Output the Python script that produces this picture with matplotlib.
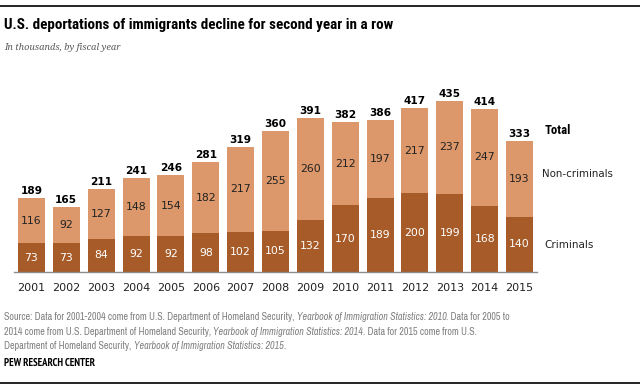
import matplotlib
matplotlib.use("Agg")
import matplotlib.pyplot as plt
from matplotlib import font_manager
from matplotlib.text import Annotation

years = ["2001", "2002", "2003", "2004", "2005", "2006", "2007", "2008",
         "2009", "2010", "2011", "2012", "2013", "2014", "2015"]
criminals = [73, 73, 84, 92, 92, 98, 102, 105, 132, 170, 189, 200, 199, 168, 140]
non_criminals = [116, 92, 127, 148, 154, 182, 217, 255, 260, 212, 197, 217, 237, 247, 193]
totals = [189, 165, 211, 241, 246, 281, 319, 360, 391, 382, 386, 417, 435, 414, 333]

DARK = "#A65B28"
LIGHT = "#DC986A"

def wnum(w):
    if isinstance(w, (int, float)):
        return int(w)
    return font_manager.weight_dict.get(str(w), 400)

entries = {}
for f in font_manager.fontManager.ttflist:
    entries.setdefault(f.name, []).append((wnum(f.weight), f.style))

def pick(cands, need_bold=False, need_italic=False):
    for c in cands:
        e = entries.get(c)
        if not e:
            continue
        weights = [w for w, s in e]
        if not any(350 <= w <= 500 for w in weights):
            continue
        if need_bold and not any(w >= 600 for w in weights):
            continue
        if need_italic and not any(s in ("italic", "oblique") for w, s in e):
            continue
        return [c, "DejaVu Sans"]
    return ["DejaVu Sans"]

COND_CANDS = ["Roboto Condensed", "Fira Sans Condensed", "IBM Plex Sans Condensed",
              "Archivo Narrow", "PT Sans Narrow", "Barlow Semi Condensed",
              "Asap Condensed", "Encode Sans Condensed", "Liberation Sans Narrow"]
NARROW_CANDS = ["PT Sans Narrow", "Archivo Narrow", "Barlow Semi Condensed",
                "Barlow Condensed", "Roboto Condensed", "Fira Sans Condensed",
                "Asap Condensed", "Liberation Sans Narrow"]
TITLEF = pick(COND_CANDS, need_bold=True)
COND = pick(NARROW_CANDS, need_italic=True)
if COND == ["DejaVu Sans"]:
    COND = pick(NARROW_CANDS)
PEWF = pick(NARROW_CANDS, need_bold=True)
SERIF = pick(["Georgia", "Noto Serif", "Merriweather", "Liberation Serif", "DejaVu Serif"],
             need_italic=True)
LABEL = ["DejaVu Sans"]

W, H = 640, 389
fig = plt.figure(figsize=(W / 100, H / 100), dpi=100)
renderer = fig.canvas.get_renderer()

def fx(px):
    return px / W

def fy(py):
    return 1 - py / H

def fit(artists, target):
    w = sum(a.get_window_extent(renderer).width for a in artists)
    for a in artists:
        a.set_fontsize(a.get_fontsize() * target / w)

ax_left, ax_right = 14, 537
base = 272
yspan = 500
pxh = 0.393 * yspan
ax = fig.add_axes([fx(ax_left), fy(base), (ax_right - ax_left) / W, pxh / H])
x = list(range(len(years)))
ax.bar(x, criminals, width=0.775, color=DARK, zorder=2)
ax.bar(x, non_criminals, width=0.775, bottom=criminals, color=LIGHT, zorder=2)
ax.set_xlim(-0.5, len(years) - 0.5)
ax.set_ylim(0, yspan)
for s in ["top", "right", "left"]:
    ax.spines[s].set_visible(False)
ax.spines["bottom"].set_color("#8c8c8c")
ax.spines["bottom"].set_linewidth(1.0)
ax.set_yticks([])
ax.set_xticks(x)
ax.set_xticklabels(years, family=LABEL, fontsize=8, color="#222222")
ax.tick_params(axis="x", length=0, pad=8)

for i in x:
    c, n, t = criminals[i], non_criminals[i], totals[i]
    ax.text(i, c / 2, str(c), ha="center", va="center", color="white",
            fontsize=7.8, family=LABEL)
    ax.text(i, c + n / 2, str(n), ha="center", va="center", color="#222222",
            fontsize=7.8, family=LABEL)
    ax.text(i, c + n + 5, str(t), ha="center", va="bottom", color="black",
            fontsize=7.6, family=LABEL, fontweight="bold")

t1 = fig.text(fx(545), fy(130), "Total", fontsize=8, fontweight="bold",
              family=TITLEF, va="center", ha="left")
t2 = fig.text(fx(542), fy(174), "Non-criminals", fontsize=8, family=LABEL,
              va="center", ha="left", color="#222222")
t3 = fig.text(fx(544), fy(245), "Criminals", fontsize=8, family=LABEL,
              va="center", ha="left", color="#222222")
fit([t1], 26)
fit([t2], 71)
fit([t3], 49)

title = fig.text(fx(4), fy(25), "U.S. deportations of immigrants decline for second year in a row",
                 fontsize=12, fontweight="bold", family=TITLEF, va="center", ha="left")
fit([title], 391)
sub = fig.text(fx(4), fy(47), "In thousands, by fiscal year", fontsize=9,
               family=SERIF, style="italic", color="#5a5a5a", va="center", ha="left")
fit([sub], 117)

GREY = "#808080"
src_lines = [
    [("Source: Data for 2001-2004 come from U.S. Department of Homeland Security, ", "normal"),
     ("Yearbook of Immigration Statistics: 2010", "italic"),
     (". Data for 2005 to", "normal")],
    [("2014 come from U.S. Department of Homeland Security, ", "normal"),
     ("Yearbook of Immigration Statistics: 2014", "italic"),
     (". Data for 2015 come from U.S.", "normal")],
    [("Department of Homeland Security, ", "normal"),
     ("Yearbook of Immigration Statistics: 2015", "italic"),
     (".", "normal")],
]
line_y = [317, 332, 346]
all_lines = []
for ly, parts in zip(line_y, src_lines):
    prev = None
    arts = []
    for txt, st in parts:
        if prev is None:
            prev = fig.text(fx(4), fy(ly), txt, fontsize=7.5, family=COND,
                            style=st, color=GREY, va="center", ha="left")
        else:
            prev = fig.add_artist(Annotation(
                txt, xy=(1, 0), xycoords=prev, va="bottom", ha="left",
                fontsize=7.5, family=COND, style=st, color=GREY))
        arts.append(prev)
    all_lines.append(arts)
w0 = sum(a.get_window_extent(renderer).width for a in all_lines[0])
scale = 509 / w0
for arts in all_lines:
    for a in arts:
        a.set_fontsize(a.get_fontsize() * scale)

pew = fig.text(fx(4), fy(363), "PEW RESEARCH CENTER", fontsize=7.5, fontweight="bold",
               family=PEWF, va="center", ha="left")
fit([pew], 92)

fig.add_artist(plt.Line2D([0, 1], [fy(6), fy(6)], color="black", lw=1.2))
fig.add_artist(plt.Line2D([0, 1], [fy(383), fy(383)], color="black", lw=1.2))

fig.savefig("out.png", dpi=100)
